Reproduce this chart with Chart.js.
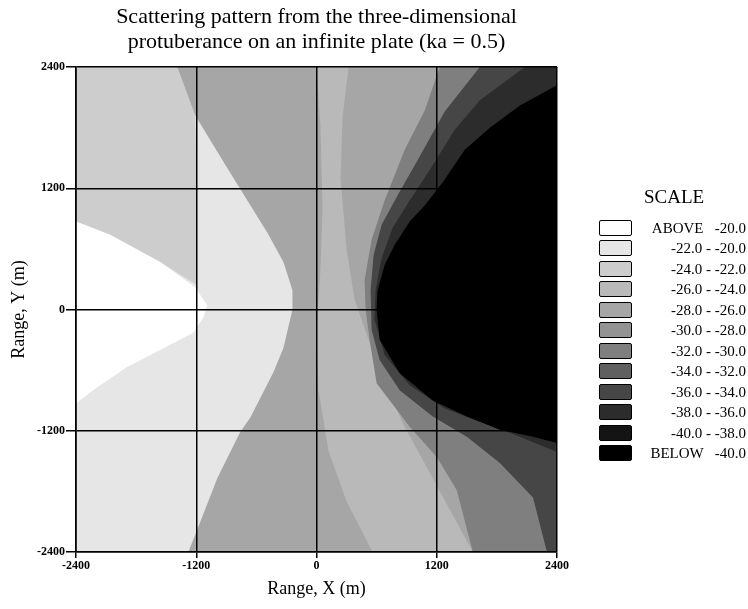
<!DOCTYPE html>
<html>
<head>
<meta charset="utf-8">
<script src="https://cdn.jsdelivr.net/npm/chart.js@4.4.1/dist/chart.umd.min.js"></script>
<style>
  body { margin: 0; background: #fff; font-family: "Liberation Serif", serif; color: #000; }
  #wrap { position: relative; width: 748px; height: 609px; overflow: hidden; }
  #chart { position: absolute; left: 0; top: 0; }
  #title { position: absolute; left: 56px; width: 521px; top: 3px; text-align: center; font-size: 22px; line-height: 25px; }
  #scale-title { position: absolute; left: 644px; top: 186px; font-size: 19px; }
  .box { position: absolute; left: 599px; width: 31px; height: 14px; border: 1.5px solid #000; border-radius: 2px; }
  .lab { position: absolute; right: 2px; font-size: 15px; white-space: pre; line-height: 17px; }
</style>
</head>
<body>
<div id="wrap">
  <canvas id="chart" width="748" height="609"></canvas>
  <div id="title">Scattering pattern from the three-dimensional<br>protuberance on an infinite plate (ka = 0.5)</div>
  <div id="scale-title">SCALE</div>
</div>
<script>
// axis ticks (m)
const tickValues = [-2400, -1200, 0, 1200, 2400];

// legend levels (dB), lightest to darkest
const levelLabels = ['ABOVE   -20.0', '-22.0 - -20.0', '-24.0 - -22.0', '-26.0 - -24.0',
  '-28.0 - -26.0', '-30.0 - -28.0', '-32.0 - -30.0', '-34.0 - -32.0',
  '-36.0 - -34.0', '-38.0 - -36.0', '-40.0 - -38.0', 'BELOW   -40.0'];
const levelColors = ['#ffffff', '#e6e6e6', '#cdcdcd', '#b9b9b9', '#a6a6a6', '#939393',
  '#7f7f7f', '#606060', '#464646', '#2c2c2c', '#141414', '#000000'];

// contour regions (x, y in m)
const plateX = [-2400, -2400, 2400, 2400];
const plateY = [-2400, 2400, 2400, -2400];

const upperLeftX = [-2400, -1390, -1210, -1190, -1190, -1560, -2060, -2400];
const upperLeftY = [2400, 2400, 1920, 1080, 240, 470, 740, 870];

const wedgeX = [-2400, -2060, -1560, -1210, -1090, -1130, -1230, -1560, -1890, -2230, -2400];
const wedgeY = [870, 740, 470, 220, 40, -80, -230, -400, -570, -800, -930];

const midX = [-1390, -1210, -860, -490, -330, -240, -240, -330, -430, -660, -760, -990, -1210, -1280, 2400, 2400];
const midY = [2400, 1920, 1350, 760, 470, 190, 0, -380, -620, -1070, -1210, -1670, -2230, -2400, -2400, 2400];

const ridgeX = [0, 40, 60, 40, 0, 20, 120, 300, 560, 760, 1000, 1300, 1500, 1560, 880, 680, 520, 380, 300, 240, 260, 320];
const ridgeY = [2400, 1800, 1000, 400, -200, -800, -1400, -1900, -2400, -2400, -2400, -2400, -2400, -2400, -1160, -730, -300, 100, 600, 1300, 1900, 2400];

const darkX = [1230, 1080, 880, 680, 550, 480, 490, 530, 600, 930, 1200, 1400, 1560, 2400, 2400];
const darkY = [2400, 1970, 1580, 1080, 690, 290, 0, -300, -730, -1160, -1460, -1790, -2400, -2400, 2400];

const darkerX = [1630, 1280, 1010, 810, 650, 570, 540, 550, 630, 830, 1160, 1500, 1830, 2160, 2300, 2400, 2400];
const darkerY = [2400, 1960, 1480, 1130, 840, 540, 190, -200, -500, -800, -1060, -1260, -1520, -1860, -2400, -2400, 2400];

const nearX = [2080, 1630, 1380, 1130, 930, 760, 650, 590, 580, 680, 930, 1280, 1630, 2030, 2400, 2400];
const nearY = [2400, 2070, 1780, 1380, 1080, 810, 510, 190, -100, -450, -750, -980, -1110, -1260, -1410, 2400];

const coreX = [2400, 2030, 1730, 1480, 1260, 1080, 930, 780, 680, 610, 600, 630, 830, 1160, 1500, 1830, 2160, 2400];
const coreY = [2220, 2020, 1800, 1580, 1260, 1030, 870, 640, 440, 190, 0, -300, -630, -900, -1060, -1190, -1260, -1320];

// paint order, bottom first: [xs, ys, level index]
const regions = [
  [plateX, plateY, 1],
  [upperLeftX, upperLeftY, 2],
  [wedgeX, wedgeY, 0],
  [midX, midY, 4],
  [ridgeX, ridgeY, 3],
  [darkX, darkY, 6],
  [darkerX, darkerY, 8],
  [nearX, nearY, 9],
  [coreX, coreY, 11]
];

const serif = 'Liberation Serif';

const datasets = regions.map((r, i) => ({
  data: r[0].map((x, k) => ({ x: x, y: r[1][k] })),
  showLine: true,
  fill: 'shape',
  backgroundColor: levelColors[r[2]],
  borderColor: levelColors[r[2]],
  borderWidth: 0,
  pointRadius: 0,
  tension: 0,
  order: regions.length - i
}));

function axis(tickLength, title, titlePad, fit) {
  return {
    type: 'linear',
    min: -2400,
    max: 2400,
    afterBuildTicks: s => { s.ticks = tickValues.map(v => ({ value: v })); },
    afterFit: fit,
    grid: { color: '#000', lineWidth: 1.5, tickLength: tickLength, drawTicks: true, z: 1 },
    border: { display: true, color: '#000', width: 1.6, z: 1 },
    ticks: {
      color: '#000', font: { family: serif, size: 12, weight: 'bold' }, padding: 1, maxRotation: 0,
      callback: v => String(v)
    },
    title: { display: true, text: title, color: '#000', font: { family: serif, size: 18 }, padding: titlePad }
  };
}

new Chart(document.getElementById('chart').getContext('2d'), {
  type: 'line',
  data: { datasets: datasets },
  options: {
    responsive: false,
    animation: false,
    layout: { padding: { top: 67, right: 191, left: 0, bottom: 0 } },
    plugins: { legend: { display: false }, tooltip: { enabled: false } },
    scales: {
      x: axis(6, 'Range, X (m)', { top: 0, bottom: 9 }, s => { s.height = 57; }),
      y: axis(10, 'Range, Y (m)', { top: 8, bottom: 7 }, s => { s.width = 76; })
    }
  }
});

// legend
const wrap = document.getElementById('wrap');
levelLabels.forEach((label, i) => {
  const top = 220 + i * 20.45;
  const box = document.createElement('div');
  box.className = 'box';
  box.style.top = top + 'px';
  box.style.background = levelColors[i];
  wrap.appendChild(box);
  const lab = document.createElement('div');
  lab.className = 'lab';
  lab.style.top = top + 'px';
  lab.textContent = label;
  wrap.appendChild(lab);
});
</script>
</body>
</html>
